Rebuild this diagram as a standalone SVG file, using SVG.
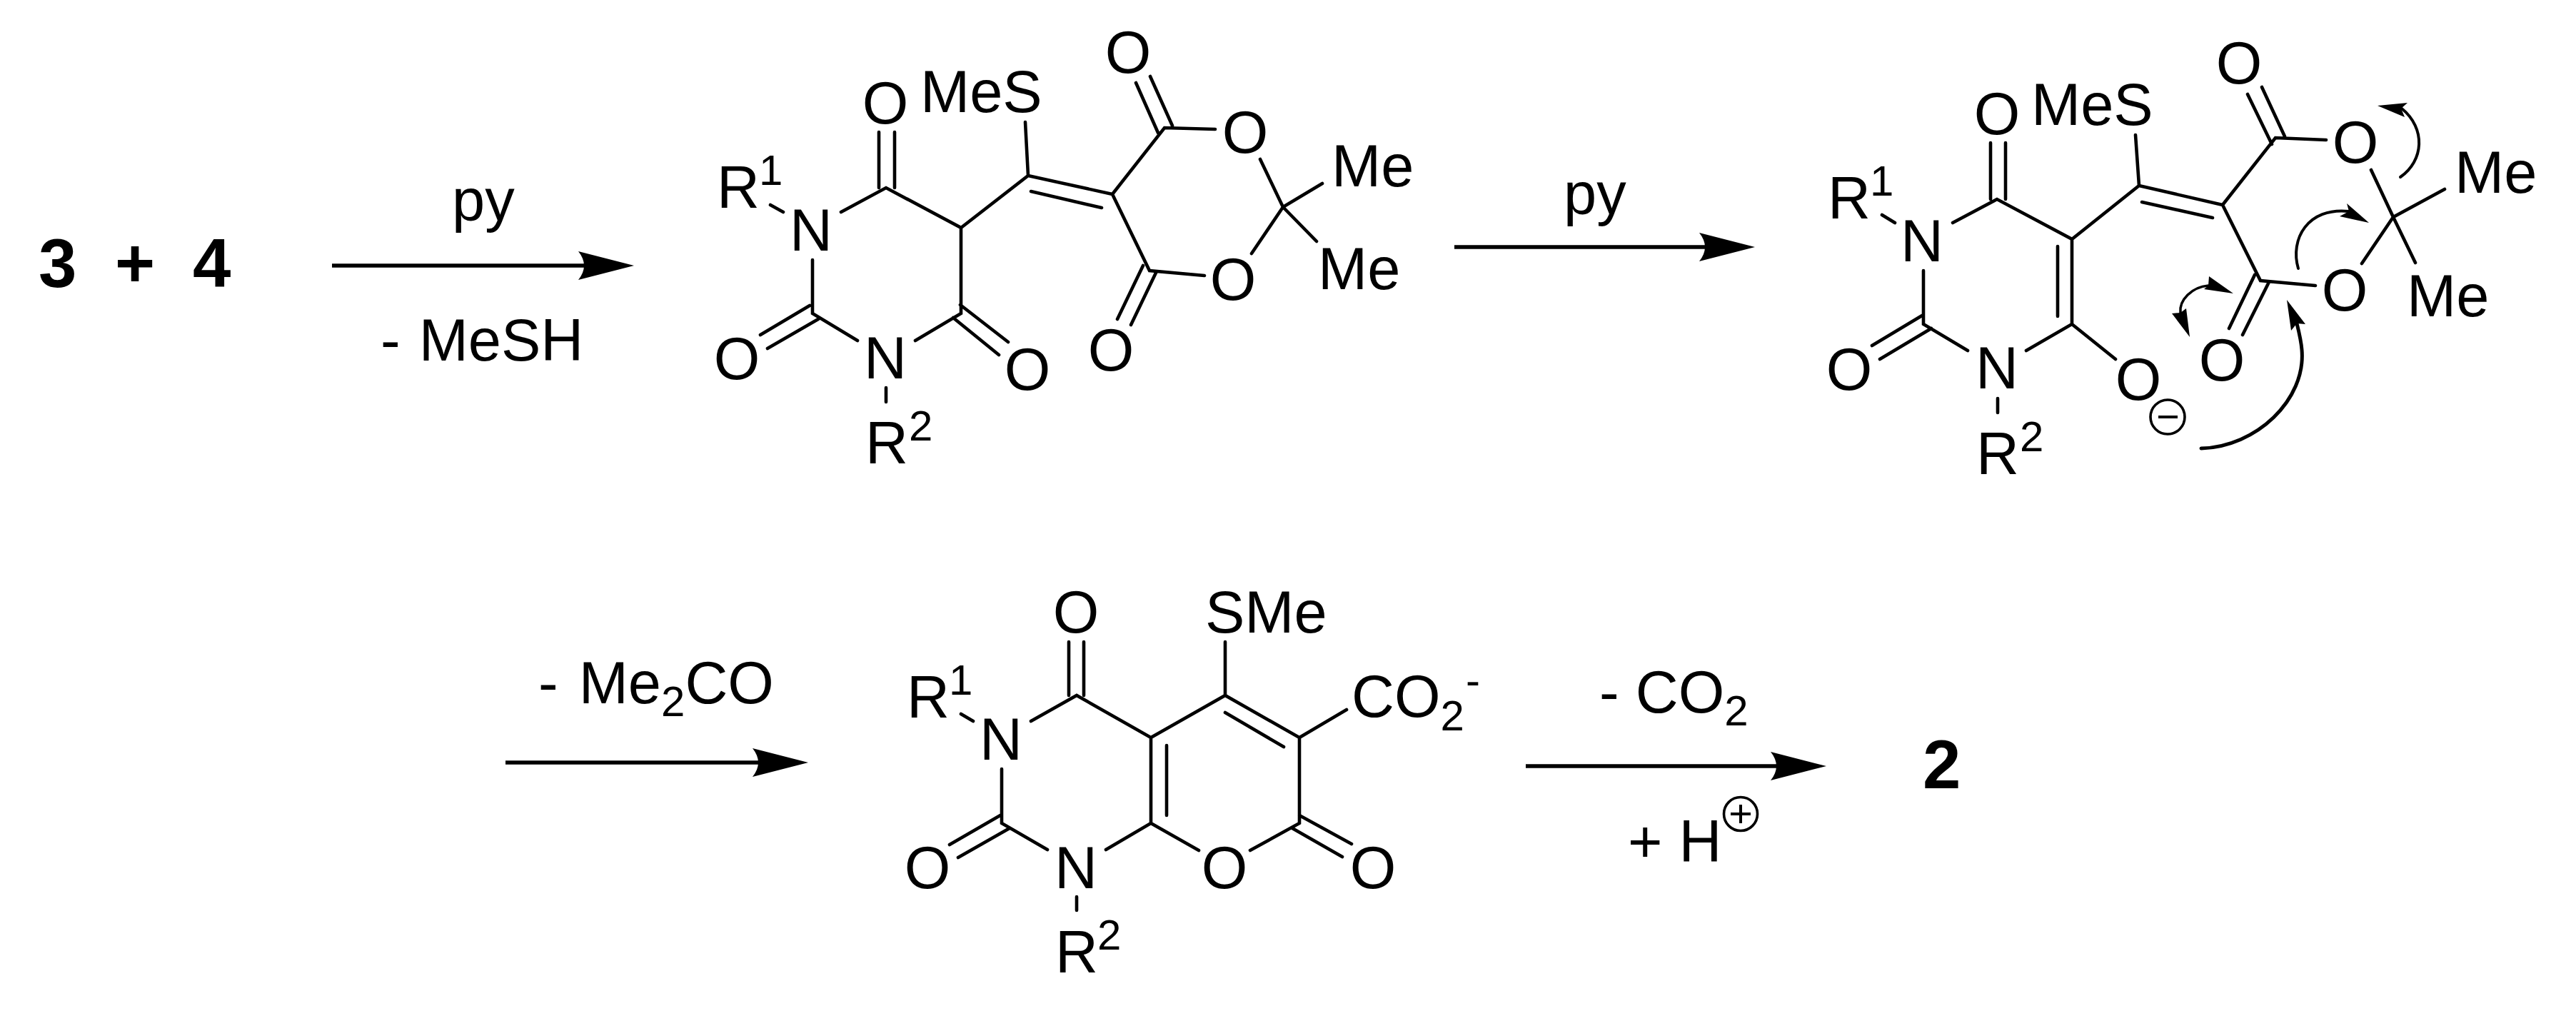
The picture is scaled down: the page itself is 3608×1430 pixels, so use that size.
<svg xmlns="http://www.w3.org/2000/svg" width="3608" height="1430" viewBox="0 0 3608 1430">
<style>
text{font-family:"Liberation Sans",Arial,sans-serif;font-size:83px;fill:#000}
.m{text-anchor:middle}
.s{font-size:60px}
.bd{font-weight:bold;font-size:96px}
.b{fill:none;stroke:#000;stroke-width:4.6;stroke-linecap:round;stroke-linejoin:miter}
.h{fill:#000;stroke:none}
.ra{fill:none;stroke:#000;stroke-width:5.4}
.ca{fill:none;stroke:#000;stroke-linecap:round}
</style>
<defs>
<marker id="rxn" markerUnits="userSpaceOnUse" markerWidth="90" markerHeight="50" refX="11" refY="22" orient="auto" overflow="visible">
<path d="M0,2 L78,22 L0,42 Q16,22 0,2 Z" fill="#000"/>
</marker>
</defs>
<rect width="3608" height="1430" fill="#fff"/>

<g id="reactants">
<text class="bd" x="54" y="402">3</text>
<text class="bd" x="161" y="402">+</text>
<text class="bd" x="270" y="402">4</text>
</g>

<g id="intermediate-1">
<path class="b" d="M1079,287L1097,297M1178,297L1241,263L1346,319V439L1282,477M1201,477L1138,439V364M1134,428L1065,469M1146,447L1075,488M1345,427L1412,479M1335,445L1399,497M1241,543V563M1231,185V263M1253,185V263M1346,319L1440,246L1558,272M1436,171L1440,246M1444,268L1543,291M1558,272L1631,179L1702,181M1591,116L1622,186M1611,107L1642,176M1765,223L1797,290L1852,257M1797,290L1844,338M1797,290L1753,355M1687,386L1610,379L1558,272M1601,372L1565,447M1619,382L1584,455"/>
<text x="1004" y="291">R</text><text class="s" x="1063" y="259">1</text>
<text class="m" x="1136" y="351">N</text>
<text class="m" x="1240" y="530">N</text>
<text x="1212" y="649">R</text><text class="s" x="1273" y="617">2</text>
<text class="m" x="1240" y="173">O</text>
<text class="m" x="1032" y="531">O</text>
<text class="m" x="1439" y="546">O</text>
<text x="1289" y="157">MeS</text>
<text class="m" x="1580" y="102">O</text>
<text class="m" x="1744" y="214">O</text>
<text class="m" x="1727" y="420">O</text>
<text class="m" x="1556" y="519">O</text>
<text x="1865" y="261">Me</text>
<text x="1846" y="405">Me</text>
</g>

<g id="intermediate-2">
<path class="b" d="M2636,301L2654,312M2735,312L2797,279L2902,335V454L2838,491M2756,491L2694,454V379M2692,442L2622,484M2705,460L2633,503M2798,558V578M2788,200V279M2809,200V279M2882,345V443M2902,335L2996,260L3113,287M2991,189L2996,260M3000,283L3099,305M3113,287L3187,193L3258,196M3148,132L3182,202M3168,122L3200,191M3321,238L3352,304L3424,265M3352,304L3383,368M3352,304L3308,369M3243,400L3166,393L3113,287M3158,385L3122,460M3177,397L3141,469M2902,454L2963,503"/>
<text x="2560" y="306">R</text><text class="s" x="2619" y="274">1</text>
<text class="m" x="2692" y="366">N</text>
<text class="m" x="2797" y="544">N</text>
<text x="2768" y="664">R</text><text class="s" x="2829" y="632">2</text>
<text class="m" x="2797" y="188">O</text>
<text class="m" x="2590" y="546">O</text>
<text class="m" x="2995" y="560">O</text>
<circle cx="3036" cy="584" r="24" fill="none" stroke="#000" stroke-width="3.6"/>
<path d="M3023,584H3050" stroke="#000" stroke-width="4" fill="none"/>
<text x="2845" y="175">MeS</text>
<text class="m" x="3136" y="117">O</text>
<text class="m" x="3299" y="228">O</text>
<text class="m" x="3284" y="435">O</text>
<text class="m" x="3112" y="533">O</text>
<text x="3438" y="270">Me</text>
<text x="3371" y="443">Me</text>
</g>

<g id="intermediate-3">
<path class="b" d="M1346,1000L1363,1010M1444,1010L1508,974L1612,1033V1153L1549,1190M1467,1190L1403,1153V1077M1401,1142L1330,1183M1414,1160L1342,1201M1508,1256V1275M1497,899V974M1518,899V974M1612,1033L1716,974L1820,1033V1153L1751,1191M1612,1153L1679,1191M1634,1044V1142M1716,899V974M1716,998L1798,1046M1820,1033L1886,994M1820,1142L1893,1182M1810,1160L1880,1200"/>
<text x="1270" y="1005">R</text><text class="s" x="1329" y="973">1</text>
<text class="m" x="1402" y="1064">N</text>
<text class="m" x="1507" y="1244">N</text>
<text x="1478" y="1362">R</text><text class="s" x="1537" y="1330">2</text>
<text class="m" x="1507" y="886">O</text>
<text class="m" x="1299" y="1244">O</text>
<text class="m" x="1715" y="1244">O</text>
<text class="m" x="1923" y="1244">O</text>
<text x="1688" y="886">SMe</text>
<text x="1893" y="1004">CO<tspan class="s" dy="19">2</tspan><tspan class="s" dx="2" dy="-50">-</tspan></text>
</g>

<g id="product">
<text class="bd" x="2693" y="1104">2</text>
</g>

<g id="connectors">
<path class="ra" marker-end="url(#rxn)" d="M465,372H821"/>
<path class="ra" marker-end="url(#rxn)" d="M2037,346H2391"/>
<path class="ra" marker-end="url(#rxn)" d="M708,1068H1065"/>
<path class="ra" marker-end="url(#rxn)" d="M2137,1073H2491"/>
<g id="electron-arrows">
<path class="ca" stroke-width="5" d="M3083,628C3160,626 3230,560 3224,490C3223,477 3220,465 3217,453"/>
<path class="h" d="M3203,420L3229,454L3217,453L3209,463Z"/>
<path class="ca" stroke-width="3.6" d="M3054,438C3052,420 3070,402 3093,400"/>
<path class="h" d="M3067,472L3042,439L3054,438L3062,432Z"/>
<path class="h" d="M3128,411L3094,387L3093,400L3087,405Z"/>
<path class="ca" stroke-width="4" d="M3219,376C3207,335 3232,290 3290,296"/>
<path class="h" d="M3318,312L3287,285L3290,296L3277,303Z"/>
<path class="ca" stroke-width="4" d="M3362,248C3395,225 3398,180 3364,152"/>
<path class="h" d="M3330,148L3372,144L3363,152L3368,164Z"/>
</g>
</g>

<g id="label-py-1"><text x="633" y="309">py</text></g>
<g id="label-mesh"><text x="533" y="505">- <tspan dx="3">MeSH</tspan></text></g>
<g id="label-py-2"><text x="2190" y="300">py</text></g>
<g id="label-me2co"><text x="754" y="985">- <tspan dx="6">Me</tspan><tspan class="s" dy="18">2</tspan><tspan dy="-18">CO</tspan></text></g>
<g id="label-co2"><text x="2240" y="998">- CO<tspan class="s" dy="18">2</tspan></text></g>
<g id="label-h"><text x="2280" y="1207">+ H</text>
<circle cx="2438" cy="1140" r="23.5" fill="none" stroke="#000" stroke-width="3.6"/>
<path d="M2424,1140H2452M2438,1127V1153" stroke="#000" stroke-width="4" fill="none"/></g>
</svg>
